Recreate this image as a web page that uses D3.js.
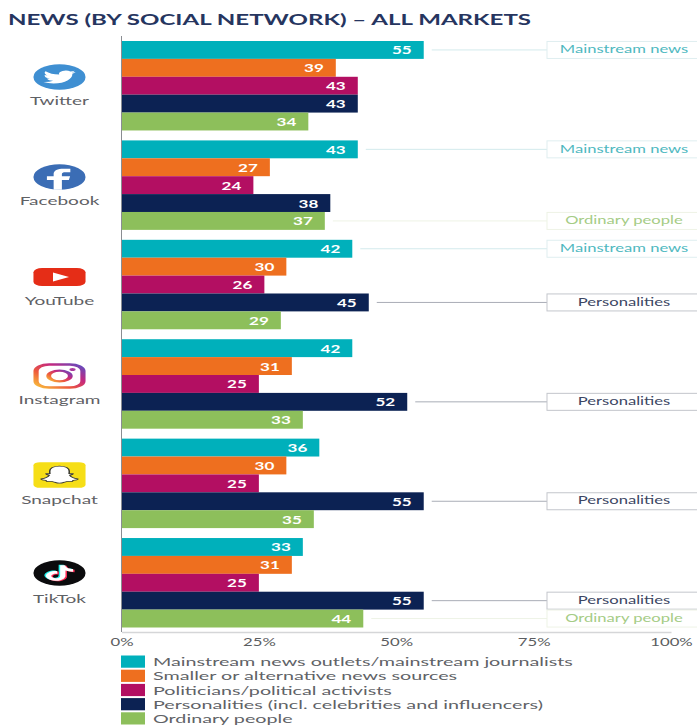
<!DOCTYPE html>
<html>
<head>
<meta charset="utf-8">
<script src="https://cdn.jsdelivr.net/npm/d3@7"></script>
<style>
html,body{margin:0;padding:0;background:#fff;overflow:hidden}
svg{display:block}
text{font-family:Lato,"Open Sans",sans-serif}
</style>
</head>
<body>
<svg id="chart" width="697" height="725"></svg>
<script>
const title = "NEWS (BY SOCIAL NETWORK) – ALL MARKETS";
const networks = ["Twitter", "Facebook", "YouTube", "Instagram", "Snapchat", "TikTok"];
const seriesNames = [
  "Mainstream news outlets/mainstream journalists",
  "Smaller or alternative news sources",
  "Politicians/political activists",
  "Personalities (incl. celebrities and influencers)",
  "Ordinary people"
];
const seriesColors = ["#00b0bb", "#ee6f1f", "#b30f62", "#0c2253", "#8dbf5b"];
const mainstream    = [55, 43, 42, 42, 36, 33];
const smaller       = [39, 27, 30, 31, 30, 31];
const politicians   = [43, 24, 26, 25, 25, 25];
const personalities = [43, 38, 45, 52, 55, 55];
const ordinary      = [34, 37, 29, 33, 35, 44];
const seriesValues = [mainstream, smaller, politicians, personalities, ordinary];
const tickValues = [0, 25, 50, 75, 100];

// Which series gets a callout on each network, with its wording and tints.
const calloutSeries = [[0], [0, 4], [0, 3], [3], [3], [3, 4]];
const calloutText = {0: "Mainstream news", 3: "Personalities", 4: "Ordinary people"};
const calloutInk  = {0: "#4fb9bf", 3: "#3c4663", 4: "#a5cc85"};
const calloutRule = {0: "#d3eaec", 3: "#a9adb6", 4: "#eef3e6"};
const calloutEdge = {0: "#dfeef0", 3: "#c3c6cc", 4: "#eef3e6"};

const svg = d3.select("#chart");

const x = d3.scaleLinear().domain([0, 100]).range([121.5, 671]);
const yNet = d3.scaleBand().domain(networks).range([41, 627.5]).paddingInner(0.1);
const ySer = d3.scaleBand().domain(d3.range(seriesNames.length)).range([0, yNet.bandwidth()]);

// Text in this chart runs wide; widen each string relative to its natural length.
function widen(sel, factor) {
  sel.each(function () {
    const len = this.getComputedTextLength();
    d3.select(this).attr("textLength", len * factor).attr("lengthAdjust", "spacingAndGlyphs");
  });
  return sel;
}

svg.append("text").attr("x", 8).attr("y", 24.5)
  .attr("font-size", 14.2).attr("font-weight", 700).attr("fill", "#26355f")
  .text(title).attr("textLength", 523).attr("lengthAdjust", "spacingAndGlyphs");

// Callout leaders and boxes sit behind the bars.
const callouts = svg.append("g");
networks.forEach((net, n) => {
  calloutSeries[n].forEach(s => {
    const v = seriesValues[s][n];
    const cy = yNet(net) + ySer(s) + ySer.bandwidth() / 2;
    const left = 547;
    callouts.append("line")
      .attr("x1", x(v) + 8).attr("x2", left).attr("y1", cy).attr("y2", cy)
      .attr("stroke", calloutRule[s]).attr("stroke-width", 1);
    callouts.append("rect")
      .attr("x", left).attr("y", cy - 8.5).attr("width", 152).attr("height", 17)
      .attr("fill", "#fff").attr("stroke", calloutEdge[s]).attr("stroke-width", 1);
    callouts.append("text")
      .attr("x", 624).attr("y", cy + 3.2).attr("text-anchor", "middle")
      .attr("font-size", 10.5).attr("fill", calloutInk[s])
      .text(calloutText[s]).call(widen, 1.58);
  });
});

// Bars with their value labels.
const groups = svg.append("g").selectAll("g").data(networks).join("g")
  .attr("transform", d => `translate(0,${yNet(d)})`);
groups.each(function (net, n) {
  const g = d3.select(this);
  const rows = seriesValues.map((vals, s) => ({s, v: vals[n]}));
  g.selectAll("rect").data(rows).join("rect")
    .attr("x", x(0)).attr("y", d => ySer(d.s))
    .attr("width", d => x(d.v) - x(0)).attr("height", ySer.bandwidth())
    .attr("fill", d => seriesColors[d.s]);
  g.selectAll("text").data(rows).join("text")
    .attr("x", d => x(d.v) - 12).attr("y", d => ySer(d.s) + ySer.bandwidth() / 2 + 4.5)
    .attr("text-anchor", "end").attr("font-size", 11).attr("font-weight", 700)
    .attr("fill", "#fff").text(d => d.v).call(widen, 1.55);
});

// Axis lines and percentage ticks.
const axis = d3.axisBottom(x).tickValues(tickValues).tickFormat(d => d + "%").tickSize(0).tickPadding(6);
const axisG = svg.append("g").attr("transform", "translate(0,632)").call(axis);
axisG.select(".domain").attr("stroke", "#d5d6d8").attr("stroke-width", 1.5);
axisG.selectAll("text").attr("font-size", 11).attr("fill", "#5b5d60")
  .attr("font-family", "Lato,sans-serif").call(widen, 1.52);
svg.append("line").attr("x1", x(0)).attr("x2", x(0)).attr("y1", 36).attr("y2", 632)
  .attr("stroke", "#8a8d92").attr("stroke-width", 1);

// Legend.
const legendY = d3.scaleBand().domain(seriesNames).range([655.5, 724.5]).paddingInner(0.14);
const legend = svg.append("g").selectAll("g").data(seriesNames).join("g")
  .attr("transform", d => `translate(0,${legendY(d)})`);
legend.append("rect").attr("x", 121).attr("width", 24).attr("height", legendY.bandwidth())
  .attr("fill", (d, i) => seriesColors[i]);
const legendText = legend.append("text").attr("x", 153).attr("y", legendY.bandwidth() - 1.5)
  .attr("font-size", 11.6).attr("fill", "#606266").text(d => d);
legendText.attr("textLength", function () { return this.getComputedTextLength() * 1.7; })
  .attr("lengthAdjust", "spacingAndGlyphs");

// Network names under the logos.
const iconCx = 59.5;
const iconCy = [77, 177, 277, 376, 475, 573];
const nameBase = [104.5, 204.5, 304.5, 403.5, 503.5, 602.5];
networks.forEach((net, i) => {
  svg.append("text").attr("x", iconCx).attr("y", nameBase[i]).attr("text-anchor", "middle")
    .attr("font-size", 11.6).attr("fill", "#5f6165").text(net).call(widen, 1.64);
});

// Logos, drawn in a 24-unit box and stretched to the wider chart proportions.
function logo(i) {
  return svg.append("g").attr("transform", `translate(${iconCx},${iconCy[i]}) scale(2.17,1.07) translate(-12,-12)`);
}
const birdPath = "M23.953 4.57a10 10 0 01-2.825.775 4.958 4.958 0 002.163-2.723c-.951.555-2.005.959-3.127 1.184a4.92 4.92 0 00-8.384 4.482C7.69 8.095 4.067 6.13 1.64 3.162a4.822 4.822 0 00-.666 2.475c0 1.71.87 3.213 2.188 4.096a4.904 4.904 0 01-2.228-.616v.06a4.923 4.923 0 003.946 4.827 4.996 4.996 0 01-2.212.085 4.936 4.936 0 004.604 3.417 9.867 9.867 0 01-6.102 2.105c-.39 0-.779-.023-1.17-.067a13.995 13.995 0 007.557 2.209c9.053 0 13.998-7.496 13.998-13.985 0-.21 0-.42-.015-.63A9.935 9.935 0 0024 4.59z";
const notePath = "M12.525.02c1.31-.02 2.61-.01 3.91-.02.08 1.53.63 3.09 1.75 4.17 1.12 1.11 2.7 1.62 4.24 1.79v4.03c-1.44-.05-2.89-.35-4.2-.97-.57-.26-1.1-.59-1.62-.93-.01 2.92.01 5.84-.02 8.75-.08 1.4-.54 2.79-1.35 3.94-1.31 1.92-3.58 3.17-5.91 3.21-1.43.08-2.86-.31-4.08-1.03-2.02-1.19-3.44-3.37-3.65-5.71-.02-.5-.03-1-.01-1.49.18-1.9 1.12-3.72 2.58-4.96 1.66-1.44 3.98-2.13 6.15-1.72.02 1.48-.04 2.96-.04 4.44-.99-.32-2.15-.23-3.02.37-.63.41-1.11 1.04-1.36 1.75-.21.51-.15 1.07-.14 1.61.24 1.64 1.82 3.02 3.5 2.87 1.12-.01 2.19-.66 2.77-1.61.19-.33.4-.67.41-1.06.1-1.79.06-3.57.07-5.36.01-4.03-.01-8.05.02-12.07z";

// Twitter
const tw = logo(0);
tw.append("circle").attr("cx", 12).attr("cy", 12).attr("r", 12).attr("fill", "#3f8fd2");
tw.append("path").attr("d", birdPath).attr("fill", "#fff")
  .attr("transform", "translate(12,12) scale(0.62) translate(-12,-12)");

// Facebook
const fb = logo(1);
fb.append("circle").attr("cx", 12).attr("cy", 12).attr("r", 12).attr("fill", "#3b6db5");
fb.append("path").attr("fill", "#fff")
  .attr("d", "M17 7.6h-2.3c-1 0-1.6.6-1.6 1.7v2h3.8l-.6 3.4h-3.2V24H9.3v-9.3H6.2v-3.4h3.1V8.9c0-3 1.8-4.7 4.6-4.7 1.4 0 3.1.2 3.1.2z");

// YouTube
const yt = logo(2);
yt.append("rect").attr("x", 0).attr("y", 3.6).attr("width", 24).attr("height", 16.8).attr("rx", 4)
  .attr("fill", "#e52d17");
yt.append("path").attr("d", "M9 7.8L16.4 12L9 16.2z").attr("fill", "#fff");

// Instagram
const defs = svg.append("defs");
const ig = defs.append("linearGradient").attr("id", "igGrad")
  .attr("x1", "0").attr("y1", "1").attr("x2", "1").attr("y2", "0");
[["0%", "#f9c23c"], ["35%", "#ee5a3c"], ["65%", "#c4287f"], ["100%", "#5b4fc4"]].forEach(([o, c]) =>
  ig.append("stop").attr("offset", o).attr("stop-color", c));
const insta = logo(3);
insta.append("rect").attr("x", 1.2).attr("y", 1.2).attr("width", 21.6).attr("height", 21.6).attr("rx", 6)
  .attr("fill", "none").attr("stroke", "url(#igGrad)").attr("stroke-width", 2.4);
insta.append("circle").attr("cx", 12).attr("cy", 12).attr("r", 5).attr("fill", "none")
  .attr("stroke", "url(#igGrad)").attr("stroke-width", 2.2);
insta.append("circle").attr("cx", 18).attr("cy", 6).attr("r", 1.4).attr("fill", "#a93a9e");

// Snapchat
const sc = logo(4);
sc.append("rect").attr("x", 0).attr("y", 0).attr("width", 24).attr("height", 24).attr("rx", 3)
  .attr("fill", "#f6de17");
sc.append("path").attr("fill", "#fff").attr("stroke", "#3a3a30").attr("stroke-width", 0.7)
  .attr("d", "M12 3.6c2.9 0 4.5 2.1 4.5 4.6 0 1 0 1.9-.1 2.5.6.2 1.3-.3 1.7 0 .4.4-.3 1-1.4 1.4.5 1.6 2 3.1 3.8 3.6.2.7-1.1 1.1-2.2 1.3-.3.6-.2 1.1-.7 1.1-1.2-.1-2.4-.2-3.3.6-.7.5-1.2 1-2.3 1s-1.6-.5-2.3-1c-.9-.8-2.1-.7-3.3-.6-.5 0-.4-.5-.7-1.1-1.1-.2-2.4-.6-2.2-1.3 1.8-.5 3.3-2 3.8-3.6-1.1-.4-1.8-1-1.4-1.4.4-.3 1.1.2 1.7 0-.1-.6-.1-1.5-.1-2.5 0-2.5 1.6-4.6 4.5-4.6z");

// TikTok
const tt = logo(5);
tt.append("circle").attr("cx", 12).attr("cy", 12).attr("r", 12).attr("fill", "#0b0b0d");
[["#25f4ee", -0.7, -0.5], ["#fe2c55", 0.7, 0.5], ["#fff", 0, 0]].forEach(([c, dx, dy]) =>
  tt.append("path").attr("d", notePath).attr("fill", c)
    .attr("transform", `translate(${12 + dx},${12 + dy}) scale(0.6) translate(-12,-12)`));
</script>
</body>
</html>
